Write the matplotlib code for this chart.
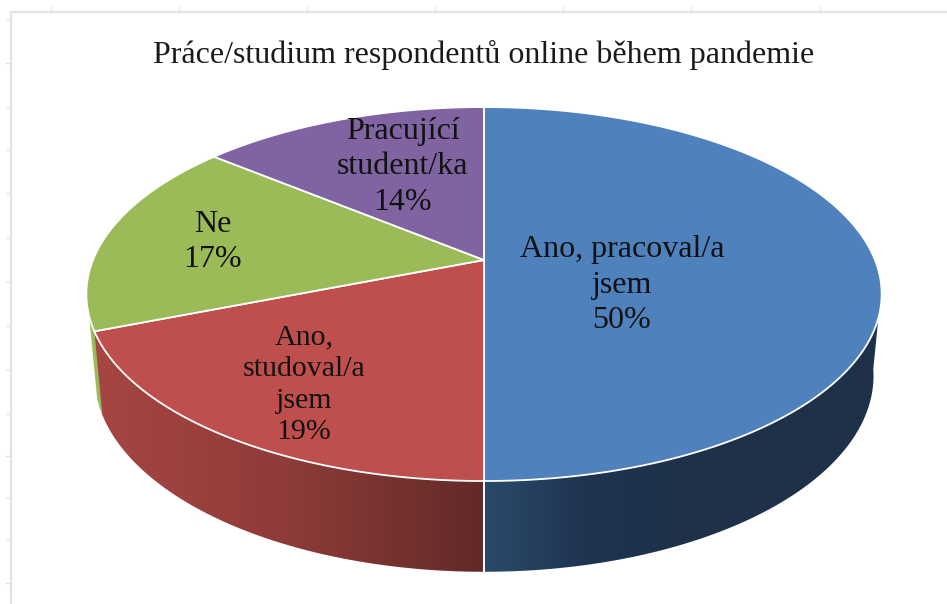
import numpy as np
import matplotlib
matplotlib.use("Agg")
import matplotlib.pyplot as plt
from matplotlib.colors import LinearSegmentedColormap
from matplotlib.patches import Polygon

title = "Práce/studium respondentů online během pandemie"
categories = ["Ano, pracoval/a\njsem", "Ano,\nstudoval/a\njsem", "Ne", "Pracující\nstudent/ka"]
shares = [50, 19, 17, 14]
top_colors = ["#4f81bd", "#bf4f4c", "#9bbb59", "#8064a2"]

label_xy = [(622, 285), (304, 385), (213, 242), (403, 167)]
label_spacing = [1.3, 1.28, 1.3, 1.3]
label_size = [23, 21.5, 23, 23]
frame_ticks_x = [51, 179, 307, 435, 563, 691, 820]
frame_ticks_y = [20, 63, 107, 150, 193, 238, 282, 326, 370, 414, 456, 498, 540, 583]

FONT = "Liberation Serif"
FRAME = "#e3e3e3"


def top_face(t):
    # perspective circle, the pie centre is not the ellipse centre
    x, y = np.cos(t), np.sin(t)
    d = 1 + 0.182 * y
    return np.column_stack([484 + 391 * x / d, 260 - 180.8 * y / d])


def bottom_face(t):
    x, y = np.cos(t), np.sin(t)
    d = 1 + 0.182 * y
    return np.column_stack([484 + 383 * x / d, 340 - 189.6 * y / d])


def side(ax, t0, t1, colors, x0, x1, zorder):
    t = np.linspace(t0, t1, 120)
    pts = np.vstack([top_face(t), bottom_face(t)[::-1]])
    poly = Polygon(pts, closed=True, fc="none", ec="none", transform=ax.transData)
    ax.add_patch(poly)
    cmap = LinearSegmentedColormap.from_list("side", colors)
    im = ax.imshow(np.linspace(0, 1, 256)[None, :], cmap=cmap, aspect="auto",
                   extent=(x0, x1, 604, 0), zorder=zorder)
    im.set_clip_path(poly)


fig = plt.figure(figsize=(9.47, 6.04), dpi=100)
ax = fig.add_axes([0, 0, 1, 1])

# spreadsheet frame behind the chart
ax.plot([11, 11], [604, 12], color=FRAME, lw=1.6, zorder=1)
ax.plot([11, 947], [12, 12], color=FRAME, lw=1.6, zorder=1)
for x in frame_ticks_x:
    ax.plot([x, x], [7, 12], color=FRAME, lw=0.8, zorder=1)
for y in frame_ticks_y:
    ax.plot([6, 11], [y, y], color=FRAME, lw=0.8, zorder=1)

# slice angles, clockwise from twelve o'clock
fractions = np.cumsum([0] + shares) / sum(shares)
angles = np.pi / 2 - 2 * np.pi * fractions

# side walls, green only shows as a sliver left of the red one
side(ax, angles[2] - 0.08, angles[2] + 0.01, ["#9bbb59", "#9bbb59"], 85, 110, 2)
side(ax, angles[2], angles[1], ["#a64643", "#8e3b39", "#622a28"], 95, 484, 3)
side(ax, angles[1], -0.15, ["#2a4a6b", "#1f3450", "#1e3149", "#1e3149", "#1e3149"], 484, 884, 3)

bottom_t = np.array([angles[1]])
ax.plot(*np.vstack([top_face(bottom_t), bottom_face(bottom_t)]).T,
        color="white", lw=1.4, zorder=4)

# top face
for i, color in enumerate(top_colors):
    t = np.linspace(angles[i], angles[i + 1], 200)
    pts = np.vstack([[484, 260], top_face(t)])
    ax.add_patch(Polygon(pts, closed=True, fc=color, ec="white", lw=1.3,
                         joinstyle="round", zorder=5))

for text, share, (x, y), spacing, size in zip(categories, shares, label_xy, label_spacing, label_size):
    ax.text(x, y, f"{text}\n{share}%", ha="center", va="center", family=FONT,
            fontsize=size, linespacing=spacing, color="#111111", zorder=6)

ax.text(484, 55, title, ha="center", va="center", family=FONT, fontsize=23,
        color="#1a1a1a", zorder=6)

ax.set_xlim(0, 947)
ax.set_ylim(604, 0)
ax.axis("off")
fig.savefig("out.png", dpi=100)
